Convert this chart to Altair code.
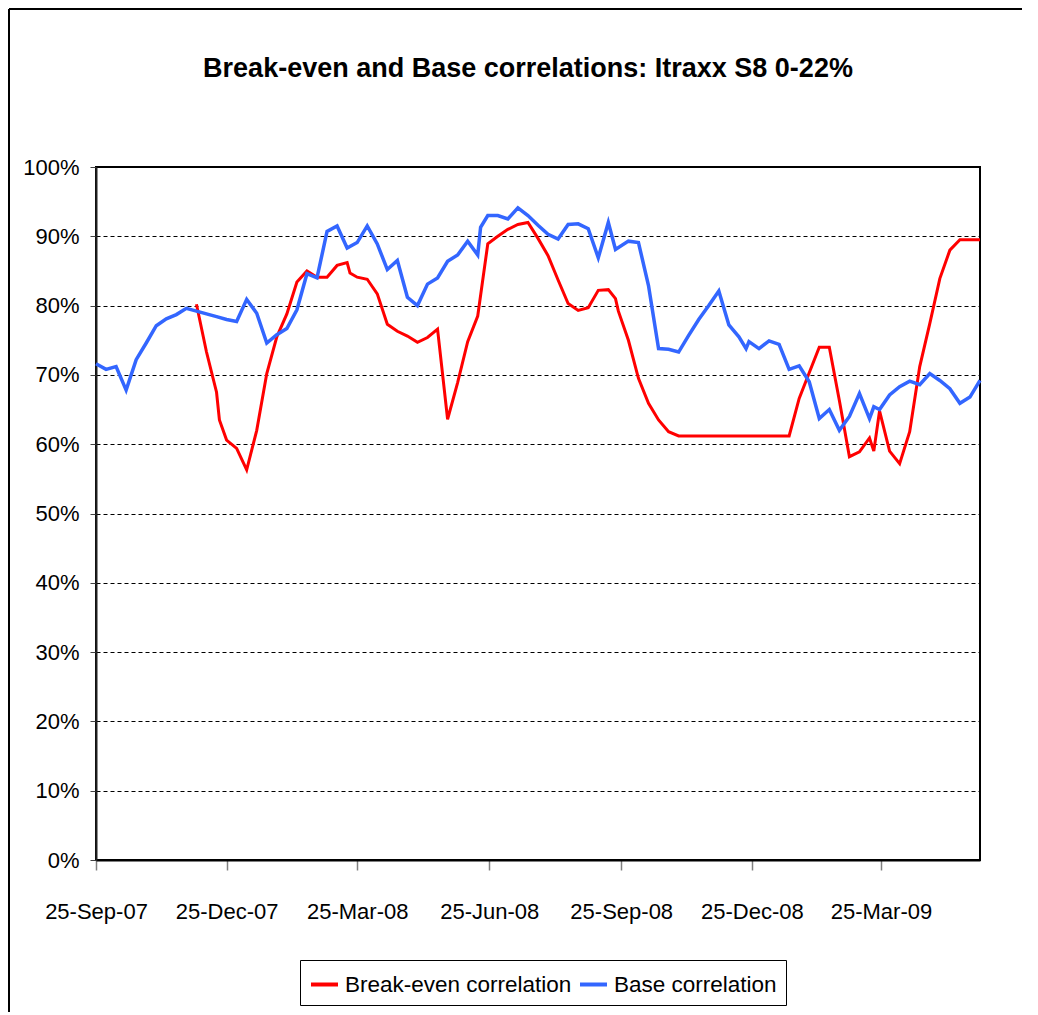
import altair as alt
import pandas as pd

# ---------------- data ----------------
blue_dates = [
    "2007-09-25", "2007-10-02", "2007-10-09", "2007-10-16", "2007-10-23", "2007-10-30",
    "2007-11-06", "2007-11-13", "2007-11-20", "2007-11-27", "2007-12-04", "2007-12-11",
    "2007-12-18", "2007-12-25", "2008-01-01", "2008-01-08", "2008-01-15", "2008-01-22",
    "2008-01-29", "2008-02-05", "2008-02-12", "2008-02-19", "2008-02-26", "2008-03-04",
    "2008-03-11", "2008-03-18", "2008-03-25", "2008-04-01", "2008-04-08", "2008-04-15",
    "2008-04-22", "2008-04-29", "2008-05-06", "2008-05-13", "2008-05-20", "2008-05-27",
    "2008-06-03", "2008-06-10", "2008-06-17", "2008-06-19", "2008-06-24", "2008-07-01",
    "2008-07-08", "2008-07-15", "2008-07-22", "2008-07-29", "2008-08-05", "2008-08-12",
    "2008-08-19", "2008-08-26", "2008-09-02", "2008-09-09", "2008-09-16", "2008-09-21",
    "2008-09-30", "2008-10-07", "2008-10-14", "2008-10-21", "2008-10-28", "2008-11-04",
    "2008-11-11", "2008-11-18", "2008-11-25", "2008-12-02", "2008-12-09", "2008-12-16",
    "2008-12-21", "2008-12-23", "2008-12-30", "2009-01-06", "2009-01-13", "2009-01-20",
    "2009-01-27", "2009-02-03", "2009-02-10", "2009-02-17", "2009-02-24", "2009-03-03",
    "2009-03-10", "2009-03-17", "2009-03-20", "2009-03-24", "2009-03-31", "2009-04-07",
    "2009-04-14", "2009-04-21", "2009-04-28", "2009-05-05", "2009-05-12", "2009-05-19",
    "2009-05-26", "2009-06-02",
]
blue_vals = [
    71.6, 70.8, 71.2, 67.8, 72.2, 74.6,
    77.1, 78.1, 78.7, 79.6, 79.2, 78.8,
    78.4, 78.0, 77.7, 80.9, 78.9, 74.6,
    75.8, 76.7, 79.4, 84.6, 84.0, 90.7,
    91.5, 88.3, 89.1, 91.5, 88.9, 85.2,
    86.5, 81.2, 80.0, 83.1, 84.0, 86.4,
    87.3, 89.3, 87.3, 91.3, 93.0, 93.0,
    92.5, 94.1, 93.0, 91.6, 90.3, 89.6,
    91.7, 91.8, 91.1, 86.9, 92.0, 88.1,
    89.3, 89.1, 82.9, 73.8, 73.7, 73.3,
    75.7, 78.0, 80.0, 82.1, 77.2, 75.5,
    73.8, 74.8, 73.8, 74.9, 74.4, 70.8,
    71.3, 69.0, 63.7, 65.0, 62.0, 64.0,
    67.3, 63.7, 65.4, 65.0, 67.1, 68.3,
    69.1, 68.6, 70.2, 69.2, 68.0, 65.9,
    66.8, 69.2,
]

red_dates = [
    "2007-12-04", "2007-12-11", "2007-12-18", "2007-12-20", "2007-12-25", "2008-01-01",
    "2008-01-08", "2008-01-15", "2008-01-22", "2008-01-29", "2008-02-05", "2008-02-12",
    "2008-02-19", "2008-02-26", "2008-03-04", "2008-03-11", "2008-03-18", "2008-03-20",
    "2008-03-25", "2008-04-01", "2008-04-08", "2008-04-15", "2008-04-22", "2008-04-29",
    "2008-05-06", "2008-05-13", "2008-05-20", "2008-05-27", "2008-06-03", "2008-06-10",
    "2008-06-17", "2008-06-24", "2008-07-01", "2008-07-08", "2008-07-15", "2008-07-22",
    "2008-07-29", "2008-08-05", "2008-08-12", "2008-08-19", "2008-08-26", "2008-09-02",
    "2008-09-09", "2008-09-16", "2008-09-21", "2008-09-23", "2008-09-30", "2008-10-07",
    "2008-10-14", "2008-10-21", "2008-10-28", "2008-11-04", "2008-11-11", "2008-11-18",
    "2008-11-25", "2008-12-02", "2008-12-09", "2008-12-16", "2008-12-23", "2008-12-30",
    "2009-01-06", "2009-01-13", "2009-01-20", "2009-01-27", "2009-02-03", "2009-02-10",
    "2009-02-17", "2009-02-24", "2009-03-03", "2009-03-10", "2009-03-17", "2009-03-20",
    "2009-03-24", "2009-03-31", "2009-04-07", "2009-04-14", "2009-04-21", "2009-04-28",
    "2009-05-05", "2009-05-12", "2009-05-19", "2009-05-26", "2009-06-02",
]
red_vals = [
    80.2, 73.3, 67.5, 63.5, 60.6, 59.4,
    56.3, 62.0, 70.2, 75.5, 78.8, 83.4,
    85.0, 84.1, 84.1, 85.8, 86.2, 84.7,
    84.1, 83.8, 81.7, 77.3, 76.3, 75.6,
    74.7, 75.4, 76.6, 63.6, 68.9, 74.8,
    78.5, 88.9, 90.0, 91.0, 91.7, 92.0,
    89.7, 87.2, 83.7, 80.3, 79.3, 79.7,
    82.2, 82.3, 81.0, 79.2, 75.0, 69.5,
    65.9, 63.5, 61.8, 61.2, 61.2, 61.2,
    61.2, 61.2, 61.2, 61.2, 61.2, 61.2,
    61.2, 61.2, 61.2, 66.6, 70.3, 74.0,
    74.0, 66.3, 58.2, 58.9, 60.9, 59.0,
    64.8, 59.0, 57.2, 61.8, 71.2, 77.4,
    83.9, 88.0, 89.5, 89.5, 89.5,
]

series_names = ["Break-even correlation", "Base correlation"]
series_colors = ["#FF0000", "#3366FF"]
x_tick_dates = [(2007, 9, 25), (2007, 12, 25), (2008, 3, 25), (2008, 6, 25),
                (2008, 9, 25), (2008, 12, 25), (2009, 3, 25)]
x_domain = [(2007, 9, 25), (2009, 6, 2)]
y_ticks = [0, 10, 20, 30, 40, 50, 60, 70, 80, 90, 100]
title_text = "Break-even and Base correlations: Itraxx S8 0-22%"

FONT = "Liberation Sans, Arial, sans-serif"

df = pd.concat([
    pd.DataFrame({"date": red_dates, "value": red_vals, "series": series_names[0]}),
    pd.DataFrame({"date": blue_dates, "value": blue_vals, "series": series_names[1]}),
], ignore_index=True)


def dt(t):
    return alt.DateTime(year=t[0], month=t[1], date=t[2], utc=True)


x_enc = alt.X(
    "date:T",
    scale=alt.Scale(type="utc", domain=[dt(t) for t in x_domain]),
    axis=alt.Axis(
        values=[dt(t) for t in x_tick_dates],
        labelExpr="utcFormat(datum.value, '%d-%b-%y')",
        grid=False, tickSize=10, tickColor="#808080", tickWidth=1.5,
        domainColor="black", domainWidth=2,
        labelFont=FONT, labelFontSize=22, labelColor="black",
        labelPadding=31, labelFlush=False, labelOverlap=False, title=None,
    ),
)
y_enc = alt.Y(
    "value:Q",
    scale=alt.Scale(domain=[0, 100], nice=False),
    axis=alt.Axis(
        values=y_ticks, labelExpr="datum.value + '%'",
        grid=True, gridColor="black", gridDash=[4, 3], gridWidth=1,
        tickSize=6, tickColor="#404040", domainColor="#202020", domainWidth=2,
        labelFont=FONT, labelFontSize=22, labelColor="black", labelPadding=11,
        title=None,
    ),
)
color_enc = alt.Color(
    "series:N",
    scale=alt.Scale(domain=series_names, range=series_colors),
    legend=alt.Legend(
        orient="none", legendX=204, legendY=793, direction="horizontal",
        title=None, symbolType="stroke", symbolSize=729, symbolStrokeWidth=4,
        labelFont=FONT, labelFontSize=22.5, labelColor="black", labelOffset=5,
        labelLimit=1000, columnPadding=0, padding=9,
        strokeColor="black", fillColor="white",
    ),
)

base = alt.Chart(df).encode(x=x_enc, y=y_enc, color=color_enc)
red_line = base.transform_filter(alt.datum.series == series_names[0]).mark_line(strokeWidth=3)
blue_line = base.transform_filter(alt.datum.series == series_names[1]).mark_line(strokeWidth=3.5)

one = pd.DataFrame({"k": [0]})
top_border = alt.Chart(one).mark_rule(color="black", strokeWidth=2).encode(
    x=alt.value(-87), x2=alt.value(960), y=alt.value(-158))
left_border = alt.Chart(one).mark_rule(color="black", strokeWidth=2).encode(
    x=alt.value(-87), y=alt.value(-158), y2=alt.value(860))

chart = alt.layer(red_line, blue_line, top_border, left_border).properties(
    width=884, height=693,
    background="white",
    title=alt.TitleParams(title_text, font=FONT, fontSize=27, fontWeight="bold",
                          color="black", anchor="middle", dx=-10, offset=-96,
                          baseline="alphabetic"),
    autosize=alt.AutoSizeParams(type="none"),
    padding={"left": 88, "top": 159, "right": 42, "bottom": 152},
).configure_view(stroke="black", strokeWidth=2)

chart.save("out.html", embed_options={"renderer": "svg", "actions": False})
